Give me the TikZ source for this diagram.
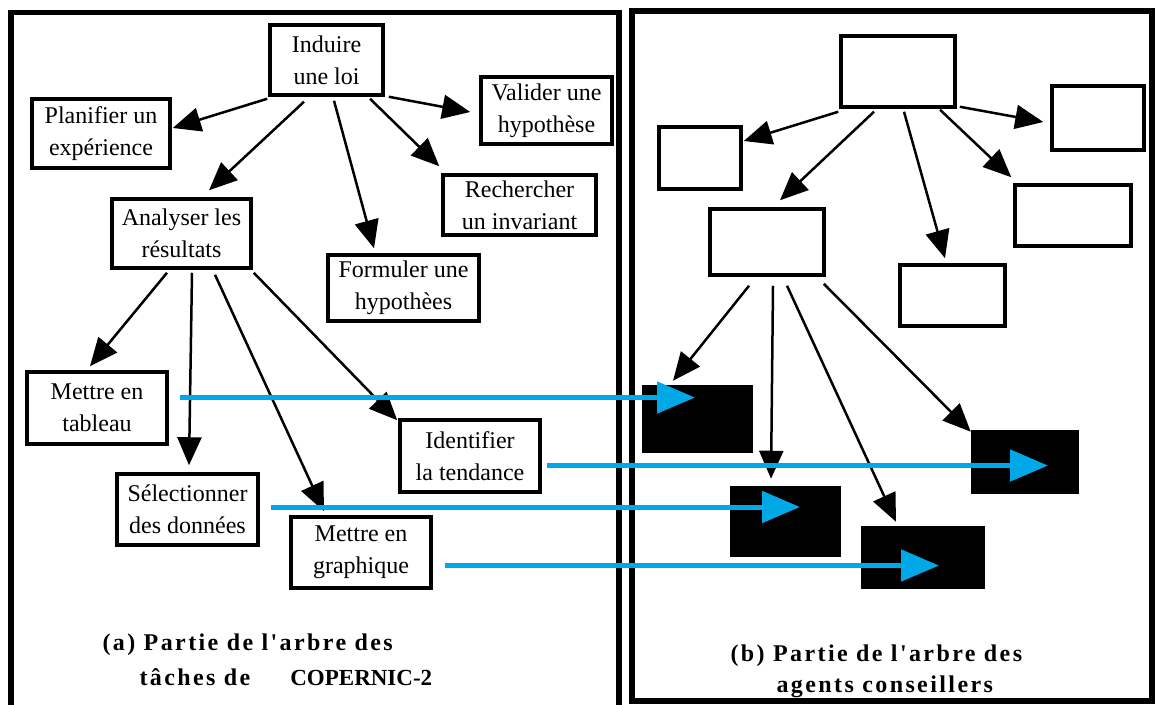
\documentclass[tikz,border=0pt]{standalone}
\usepackage{fontspec}
\setmainfont{Liberation Serif}
\newfontfamily\capfont[LetterSpace=10]{Liberation Serif}
\usetikzlibrary{arrows.meta}
\definecolor{linkblue}{RGB}{0,168,232}

\begin{document}
\begin{tikzpicture}[->,>={Triangle[length=28pt,width=24pt]},x=1pt,y=-1pt,
    line width=2.5pt,
    task/.style={draw,line width=3.5pt,inner sep=0pt,align=center,
      font=\fontsize{24}{32}\selectfont},
    agent/.style={draw,line width=3.5pt,inner sep=0pt},
    hidden/.style={fill=black,inner sep=0pt},
    frame/.style={-,line width=5.5pt},
    match/.style={-{Triangle[length=38pt,width=31pt]},linkblue,line width=5pt},
    caption/.style={anchor=west,font=\capfont\bfseries\fontsize{24}{28}\selectfont}]

\useasboundingbox (0,0) rectangle (1155,704);

% the two panels
\draw[frame] (11,720) |- (619,12.5) -- (619,720);
\draw[frame] (632,11) rectangle (1152,701);

% (a) task tree
\node[task,minimum width=113pt,minimum height=70pt] (induire)    at (326.5,60)  {Induire\\une loi};
\node[task,minimum width=138pt,minimum height=69pt] (planifier)  at (101,133.5) {Planifier un\\expérience};
\node[task,minimum width=131pt,minimum height=67pt] (valider)    at (546.5,110.5) {Valider une\\hypothèse};
\node[task,minimum width=153pt,minimum height=60pt] (rechercher) at (519.5,205) {Rechercher\\un invariant};
\node[task,minimum width=139pt,minimum height=69pt] (analyser)   at (181.5,233.5) {Analyser les\\résultats};
\node[task,minimum width=151pt,minimum height=66pt] (formuler)   at (403.5,288) {Formuler une\\hypothèes};
\node[task,minimum width=140pt,minimum height=72pt] (tableau)    at (97,408)    {Mettre en\\tableau};
\node[task,minimum width=141pt,minimum height=71pt] (selection)  at (187.5,509.5) {Sélectionner\\des données};
\node[task,minimum width=140pt,minimum height=72pt] (tendance)   at (470,456)   {Identifier\\la tendance};
\node[task,minimum width=140pt,minimum height=71pt] (graphique)  at (361,552.5) {Mettre en\\graphique};

\path ([shift={(-1,2)}]induire.south west) edge ([shift={(1,-5.5)}]planifier.east);
\path ([shift={(-22.5,5)}]induire.south) edge ([shift={(27.5,-7)}]analyser.north);
\path ([shift={(7.5,4)}]induire.south) edge ([shift={(-29.5,-5)}]formuler.north);
\path ([shift={(43.5,2)}]induire.south) edge ([shift={(-2,-7)}]rechercher.north west);
\path ([shift={(4,0)}]induire.south east) edge ([shift={(-9,1.5)}]valider.west);

\path ([shift={(-14.5,3)}]analyser.south) edge ([shift={(-7,-4)}]tableau.north);
\path ([shift={(10.5,3)}]analyser.south) edge ([shift={(1.5,-7)}]selection.north);
\path ([shift={(33.5,5)}]analyser.south) edge ([shift={(-37,-4)}]graphique.north);
\path ([shift={(1,3)}]analyser.south east) edge ([shift={(-1,2)}]tendance.north west);

% (b) agent tree
\node[agent,minimum width=114pt,minimum height=71pt] (root) at (898,71.5) {};
\node[agent,minimum width=82pt,minimum height=62pt]  (agP)  at (700,158)  {};
\node[agent,minimum width=92pt,minimum height=64pt]  (agV)  at (1098,118) {};
\node[agent,minimum width=116pt,minimum height=61pt] (agR)  at (1073,215.5) {};
\node[agent,minimum width=114pt,minimum height=66pt] (agA)  at (767,242)  {};
\node[agent,minimum width=105pt,minimum height=61pt] (agF)  at (952.5,295.5) {};
\node[hidden,minimum width=111pt,minimum height=68pt] (agTab) at (697.5,419) {};
\node[hidden,minimum width=108pt,minimum height=64pt] (agTen) at (1025,462) {};
\node[hidden,minimum width=111pt,minimum height=71pt] (agSel) at (785.5,521.5) {};
\node[hidden,minimum width=124pt,minimum height=63pt] (agGra) at (923,557.5) {};

\path ([shift={(-1,3)}]root.south west) edge ([shift={(1,-17)}]agP.east);
\path ([shift={(-24,3)}]root.south) edge ([shift={(13,-7)}]agA.north);
\path ([shift={(6,3)}]root.south) edge ([shift={(-7.5,-5)}]agF.north);
\path ([shift={(42,1)}]root.south) edge ([shift={(-2,-6)}]agR.north west);
\path ([shift={(3,-2)}]root.south east) edge ([shift={(-7,4)}]agV.west);

\path ([shift={(-18,9)}]agA.south) edge ([shift={(-24.5,-3)}]agTab.north);
\path ([shift={(6,9)}]agA.south) edge ([shift={(-14.5,-6)}]agSel.north);
\path ([shift={(20,9)}]agA.south) edge ([shift={(-27,-3)}]agGra.north);
\path ([shift={(-2,7)}]agA.south east) edge ([shift={(1,3)}]agTen.north west);

% task -> agent
\draw[match] ([shift={(11,-10.5)}]tableau.east) -- ([shift={(-2.5,-21.5)}]agTab.center);
\draw[match] ([shift={(5,9.5)}]tendance.east) -- ([shift={(23,3.5)}]agTen.center);
\draw[match] ([shift={(11,-2.5)}]selection.east) -- ([shift={(14.5,-14.5)}]agSel.center);
\draw[match] ([shift={(12,13)}]graphique.east) -- ([shift={(16,8)}]agGra.center);

% captions
\node[caption] (capA1) at (98,645) {(a) Partie de l'arbre des};
\node[caption] (capA2) at (135,677) {tâches de\hspace{40pt}{\rmfamily\bfseries\fontsize{23}{28}\selectfont COPERNIC-2}};
\node[caption] (capB1) at (726,656) {(b) Partie de l'arbre des};
\node[caption] (capB2) at (772,687) {agents conseillers};

\end{tikzpicture}
\end{document}
